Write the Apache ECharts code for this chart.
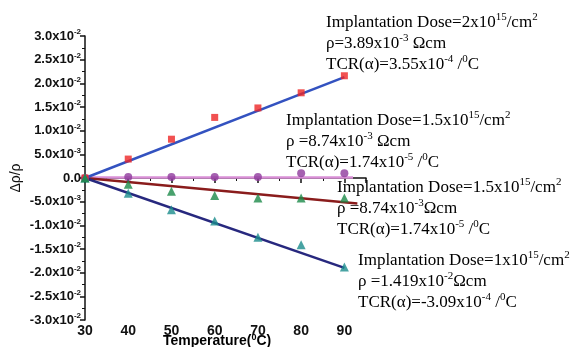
<!DOCTYPE html>
<html>
<head>
<meta charset="utf-8">
<script src="https://cdn.jsdelivr.net/npm/echarts@6/dist/echarts.min.js"></script>
<style>
  html, body { margin: 0; padding: 0; background: #fff; }
  #main { width: 572px; height: 347px; }
</style>
</head>
<body>
<div id="main"></div>
<script>
// temperatures (°C)
var temps = [30, 40, 50, 60, 70, 80, 90];
var dose2 = [0, 0.0040, 0.0082, 0.0128, 0.0148, 0.0180, 0.0216];
var dose15a = [0, 0.0002, 0.0002, 0.0002, 0.0002, 0.0010, 0.0010];
var dose15b = [0, -0.0013, -0.0028, -0.0037, -0.0042, -0.0042, -0.0042];
var dose1 = [0, -0.0032, -0.0067, -0.0091, -0.0125, -0.0141, -0.0188];
// fitted lines: start and end points
var fit2 = [[30, 0], [90, 0.0213]];
var fit15a = [[30, 0.0001], [92, 0.0001]];
var fit15b = [[30, 0], [93, -0.0054]];
var fit1 = [[30, 0], [90, -0.0190]];

function pairs(ys) {
  return temps.map(function (t, i) { return [t, ys[i]]; });
}

function sciLabel(v) {
  v = +(+v).toPrecision(6);
  if (v === 0) return '{b|0.0}';
  var e = Math.floor(Math.log10(Math.abs(v)) + 1e-9);
  var m = v / Math.pow(10, e);
  return '{b|' + m.toFixed(1) + 'x10}{s|' + e + '}';
}

var chart = echarts.init(document.getElementById('main'), null, { renderer: 'canvas' });

var serif = "'Liberation Serif', 'Times New Roman', serif";
var sans = "'Liberation Sans', Arial, sans-serif";
var noteRich = {
  t: { fontFamily: serif, fontSize: 17, color: '#111', lineHeight: 21 },
  s: { fontFamily: serif, fontSize: 11, color: '#111', verticalAlign: 'top', lineHeight: 13 }
};
function note(x, y, lines) {
  return {
    type: 'text', left: x, top: y,
    style: { text: lines.join('\n'), rich: noteRich }
  };
}

var option = {
  animation: false,
  backgroundColor: '#fff',
  grid: { left: 85, right: 206, top: 36, bottom: 27 },
  xAxis: {
    type: 'value',
    min: 30, max: 95, interval: 10,
    splitLine: { show: false },
    axisLine: { lineStyle: { color: '#111', width: 1.5 } },
    axisTick: { inside: false, length: 5, lineStyle: { color: '#111', width: 1.5 } },
    minorTick: { show: true, splitNumber: 2, length: 3, lineStyle: { color: '#111' } },
    axisLabel: {
      showMaxLabel: false,
      color: '#111', fontWeight: 'bold', fontSize: 14,
      fontFamily: sans, margin: 4
    }
  },
  yAxis: {
    type: 'value',
    min: -0.03, max: 0.03, interval: 0.005,
    splitLine: { show: false },
    axisLine: { show: true, lineStyle: { color: '#111', width: 1.5 } },
    axisTick: { show: true, length: 5, lineStyle: { color: '#111', width: 1.5 } },
    minorTick: { show: true, splitNumber: 2, length: 3, lineStyle: { color: '#111' } },
    name: 'Δρ/ρ',
    nameLocation: 'middle',
    nameRotate: 90,
    nameGap: 62,
    nameTextStyle: { color: '#111', fontSize: 14, fontFamily: sans },
    axisLabel: {
      margin: 4,
      formatter: sciLabel,
      rich: {
        b: { fontFamily: sans, fontWeight: 'bold', fontSize: 13, color: '#111', lineHeight: 16 },
        s: { fontFamily: sans, fontWeight: 'bold', fontSize: 8, color: '#111', verticalAlign: 'top', lineHeight: 10 }
      }
    }
  },
  graphic: [
    note(326, 12, [
      '{t|Implantation Dose=2x10}{s|15}{t|/cm}{s|2}',
      '{t|ρ=3.89x10}{s|-3}{t| Ωcm}',
      '{t|TCR(α)=3.55x10}{s|-4}{t| /}{s|0}{t|C}'
    ]),
    note(286, 110, [
      '{t|Implantation Dose=1.5x10}{s|15}{t|/cm}{s|2}',
      '{t|ρ =8.74x10}{s|-3}{t| Ωcm}',
      '{t|TCR(α)=1.74x10}{s|-5}{t| /}{s|0}{t|C}'
    ]),
    note(337, 177, [
      '{t|Implantation Dose=1.5x10}{s|15}{t|/cm}{s|2}',
      '{t|ρ =8.74x10}{s|-3}{t|Ωcm}',
      '{t|TCR(α)=1.74x10}{s|-5}{t| /}{s|0}{t|C}'
    ]),
    note(358, 250, [
      '{t|Implantation Dose=1x10}{s|15}{t|/cm}{s|2}',
      '{t|ρ =1.419x10}{s|-2}{t|Ωcm}',
      '{t|TCR(α)=-3.09x10}{s|-4}{t| /}{s|0}{t|C}'
    ]),
    {
      type: 'text', left: 163, top: 333,
      style: {
        text: '{b|Temperature(}{s|0}{b|C)}',
        rich: {
          b: { fontFamily: sans, fontWeight: 'bold', fontSize: 14, color: '#111', lineHeight: 16 },
          s: { fontFamily: sans, fontWeight: 'bold', fontSize: 9, color: '#111', verticalAlign: 'top', lineHeight: 10 }
        }
      }
    }
  ],
  series: [
    { type: 'line', data: fit15a, symbol: 'none', lineStyle: { color: '#d98fd6', width: 2.5 }, z: 2 },
    { type: 'line', data: fit15b, symbol: 'none', lineStyle: { color: '#8a1c1c', width: 2.5 }, z: 2 },
    { type: 'line', data: fit2, symbol: 'none', lineStyle: { color: '#3352c0', width: 2.5 }, z: 2 },
    { type: 'line', data: fit1, symbol: 'none', lineStyle: { color: '#27287e', width: 2.5 }, z: 2 },
    { type: 'scatter', data: pairs(dose15a), symbol: 'circle', symbolSize: 8, itemStyle: { color: '#8e3a9c' }, z: 3 },
    { type: 'scatter', data: pairs(dose2), symbol: 'rect', symbolSize: 7, itemStyle: { color: '#ee2626' }, z: 3 },
    { type: 'scatter', data: pairs(dose1), symbol: 'triangle', symbolSize: 9, itemStyle: { color: '#1a8c8c' }, z: 3 },
    { type: 'scatter', data: pairs(dose15b), symbol: 'triangle', symbolSize: 9, itemStyle: { color: '#1c8a48' }, z: 4 }
  ]
};

chart.setOption(option);
</script>
</body>
</html>
